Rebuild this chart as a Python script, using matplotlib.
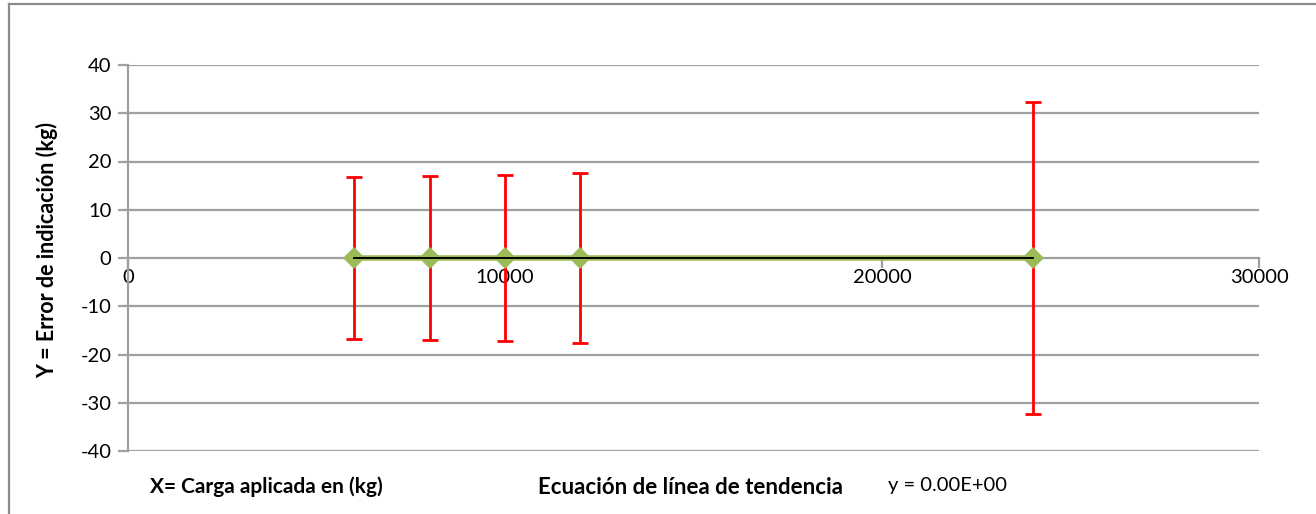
import matplotlib.pyplot as plt
from matplotlib.lines import Line2D

# Carga aplicada (kg) y error de indicación (kg)
carga = [6000, 8000, 10000, 12000, 24000]
error = [0, 0, 0, 0, 0]
incertidumbre = [16.75, 17.0, 17.3, 17.65, 32.4]

# linea de tendencia y = m*x + b
pendiente = 0.0
ordenada = 0.0

x_ticks = [0, 10000, 20000, 30000]
y_ticks = [-40, -30, -20, -10, 0, 10, 20, 30, 40]

plt.rcParams['font.family'] = ['Lato', 'DejaVu Sans']
plt.rcParams['axes.unicode_minus'] = False

fig = plt.figure(figsize=(13.16, 5.14), dpi=100)
ax = fig.add_axes([128 / 1316, 1 - 451 / 514, (1259 - 128) / 1316, (451 - 65) / 514])

grid_col = '#a0a0a0'
for yv in y_ticks:
    if yv != 0:
        ax.axhline(yv, color=grid_col, lw=1.6, zorder=0)

ax.errorbar(carga, error, yerr=incertidumbre, fmt='none', ecolor='#ff0000',
            elinewidth=2, capsize=6, capthick=2, zorder=2)
ax.plot(carga, error, color='#9bbb59', lw=4, marker='D', markersize=11,
        markeredgewidth=0, zorder=3)
tend = [pendiente * c + ordenada for c in carga]
ax.plot(carga, tend, color='black', lw=1.4, zorder=4)

ax.set_xlim(0, 30000)
ax.set_ylim(-40, 40)
ax.set_xticks(x_ticks)
ax.set_yticks(y_ticks)
ax.set_xticklabels([str(t) for t in x_ticks])

for s in ['top', 'right']:
    ax.spines[s].set_visible(False)
ax.spines['left'].set_color(grid_col)
ax.spines['left'].set_linewidth(1.6)
ax.spines['bottom'].set_color(grid_col)
ax.spines['bottom'].set_linewidth(1.6)
ax.spines['bottom'].set_position(('data', 0))
ax.spines['bottom'].set_zorder(1)

ax.tick_params(axis='both', colors=grid_col, width=1.6, length=7,
               labelcolor='black', labelsize=14.5)
ax.tick_params(axis='x', pad=1)
ax.tick_params(axis='y', pad=5)

fig.text(47 / 1316, 1 - 250 / 514, 'Y = Error de indicación (kg)', rotation=90,
         ha='center', va='center', fontsize=15.5, fontweight='bold')
fig.text(150 / 1316, 1 - 487 / 514, 'X= Carga aplicada en (kg)',
         ha='left', va='center', fontsize=15, fontweight='bold')
fig.text(538 / 1316, 1 - 487 / 514, 'Ecuación de línea de tendencia',
         ha='left', va='center', fontsize=16, fontweight='bold')
fig.text(888 / 1316, 1 - 485 / 514, 'y = 0.00E+00',
         ha='left', va='center', fontsize=14.5)

# marco del area del grafico
fig.add_artist(Line2D([9 / 1316, 9 / 1316], [0, 1 - 4 / 514], transform=fig.transFigure,
                      color='#8c8c8c', lw=1.6))
fig.add_artist(Line2D([9 / 1316, 1], [1 - 4 / 514, 1 - 4 / 514], transform=fig.transFigure,
                      color='#8c8c8c', lw=1.6))

fig.savefig('out.png', dpi=100)
